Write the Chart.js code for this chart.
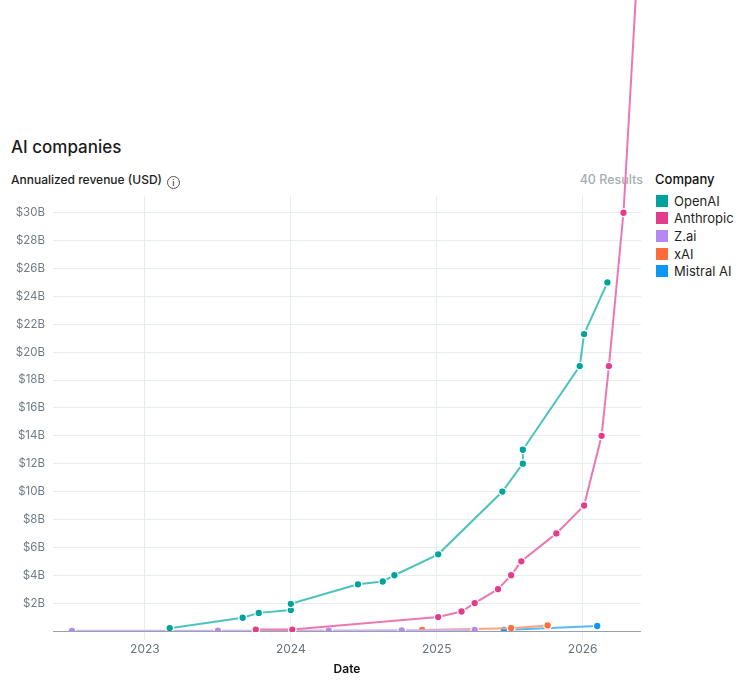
<!DOCTYPE html>
<html>
<head>
<meta charset="utf-8">
<script src="https://cdn.jsdelivr.net/npm/chart.js@4.4.1/dist/chart.umd.min.js"></script>
<style>
    body { margin: 0; background: #fff; font-family: Inter, "Noto Sans", sans-serif; }
    #wrap { position: relative; width: 739px; height: 683px; overflow: hidden; }
    #wrap canvas { position: absolute; left: 0; top: 0; z-index: 2; pointer-events: none; }
    .title { position: absolute; left: 11px; top: 137px; font-size: 17px; font-weight: 500; color: #1b1b1b; }
    .subtitle { position: absolute; left: 11px; top: 172px; font-size: 12px; font-weight: 500; color: #222; }
    .info { display: inline-block; width: 11px; height: 11px; border: 1px solid #555; border-radius: 50%;
            font-size: 9px; line-height: 11px; text-align: center; margin-left: 5px; color: #444; vertical-align: -2px; }
    .results { position: absolute; right: 96px; top: 172px; font-size: 12.5px; font-weight: 500; color: #a4aeb3; }
    #legend { position: absolute; left: 655px; top: 171px; font-size: 13px; color: #1f1f1f; }
    #legend .head { font-weight: 500; margin-bottom: 5px; color: #111; }
    #legend .item { height: 17.6px; display: flex; align-items: center; }
    #legend .box { width: 12px; height: 12px; margin-right: 6px; margin-left: 1px; }
</style>
</head>
<body>
<div id="wrap">
    <div class="title">AI companies</div>
    <div class="subtitle">Annualized revenue (USD)<span class="info">i</span></div>
    <div class="results">40 Results</div>
    <div id="legend"></div>
    <canvas id="myChart"></canvas>
</div>
<script>
// dates as decimal years, revenue in billions of USD
const openaiDates = [2023.17, 2023.67, 2023.78, 2024.0, 2024.0, 2024.46, 2024.63, 2024.71, 2025.01, 2025.45, 2025.59, 2025.59, 2025.98, 2026.01, 2026.17];
const openaiRevenue = [0.2, 0.95, 1.3, 1.5, 1.95, 3.35, 3.55, 4.0, 5.5, 10, 12, 13, 19, 21.3, 25];

const anthropicDates = [2023.76, 2024.01, 2025.01, 2025.17, 2025.26, 2025.42, 2025.51, 2025.58, 2025.82, 2026.01, 2026.13, 2026.18, 2026.28, 2026.40];
const anthropicRevenue = [0.1, 0.1, 1.0, 1.4, 2.0, 3.0, 4.0, 5.0, 7.0, 9.0, 14.0, 19.0, 30.0, 52.0];

const zaiDates = [2022.5, 2023.5, 2024.26, 2024.76, 2025.26];
const zaiRevenue = [0.01, 0.02, 0.03, 0.05, 0.07];

const xaiDates = [2024.9, 2025.51, 2025.76];
const xaiRevenue = [0.07, 0.2, 0.4];

const mistralDates = [2025.46, 2026.1];
const mistralRevenue = [0.07, 0.36];

const yearTicks = [2023, 2024, 2025, 2026];

function toPoints(dates, values) {
    return dates.map((d, i) => ({ x: d, y: values[i] }));
}

function makeSeries(label, dates, values, dot, line) {
    return {
        label: label,
        data: toPoints(dates, values),
        borderColor: line,
        backgroundColor: dot,
        pointBackgroundColor: dot,
        pointBorderColor: '#ffffff',
        pointBorderWidth: 1.3,
        pointRadius: 3.8,
        borderWidth: 2,
        tension: 0
    };
}

const datasets = [
    makeSeries('OpenAI', openaiDates, openaiRevenue, '#00a39b', '#4dc3bd'),
    makeSeries('Anthropic', anthropicDates, anthropicRevenue, '#e23c8c', '#ec78b2'),
    makeSeries('Z.ai', zaiDates, zaiRevenue, '#b48af2', '#cdb3f7'),
    makeSeries('xAI', xaiDates, xaiRevenue, '#ff6b3b', '#ffa27f'),
    makeSeries('Mistral AI', mistralDates, mistralRevenue, '#0e97f2', '#5cb8f6')
];
// anthropic runs off the top of the plot
datasets[1].clip = { left: 1, right: false, top: false, bottom: 1 };

Chart.defaults.font.family = 'Inter, "Noto Sans", sans-serif';

const ctx = document.getElementById('myChart');

const myChart = new Chart(ctx, {
    type: 'line',
    data: { datasets: datasets },
    options: {
        responsive: true,
        maintainAspectRatio: false,
        animation: false,
        events: [],
        layout: { padding: { top: 196, right: 98, left: 0, bottom: 0 } },
        plugins: {
            legend: { display: false },
            tooltip: { enabled: false }
        },
        scales: {
            x: {
                type: 'linear',
                min: 2022.37,
                max: 2026.40,
                afterFit: (scale) => { scale.height = 52; },
                afterBuildTicks: (scale) => { scale.ticks = yearTicks.map(v => ({ value: v })); },
                ticks: {
                    stepSize: 1,
                    includeBounds: false,
                    padding: 2,
                    color: '#66737b',
                    font: { size: 12 },
                    maxRotation: 0,
                    callback: (v) => String(v)
                },
                grid: { color: '#e6eded', tickColor: '#e6eded', tickLength: 9 },
                border: { display: false },
                title: {
                    display: true,
                    text: 'Date',
                    color: '#111',
                    font: { size: 12, weight: '600' },
                    padding: { top: 4, bottom: 6 }
                }
            },
            y: {
                min: 0,
                max: 31.2,
                afterFit: (scale) => { scale.width = 53; },
                ticks: {
                    stepSize: 2,
                    includeBounds: false,
                    padding: 8,
                    color: '#6f7c85',
                    font: { size: 11.5 },
                    callback: (v) => v === 0 ? '' : '$' + v + 'B'
                },
                grid: {
                    drawTicks: false,
                    color: (c) => c.tick && c.tick.value === 0 ? '#9aa0a8' : '#e6eded'
                },
                border: { display: false }
            }
        }
    }
});

// html legend built from the chart datasets
const legendEl = document.getElementById('legend');
let html = '<div class="head">Company</div>';
for (const ds of myChart.data.datasets) {
    html += `<div class="item"><span class="box" style="background:${ds.pointBackgroundColor}"></span>${ds.label}</div>`;
}
legendEl.innerHTML = html;
</script>
</body>
</html>
